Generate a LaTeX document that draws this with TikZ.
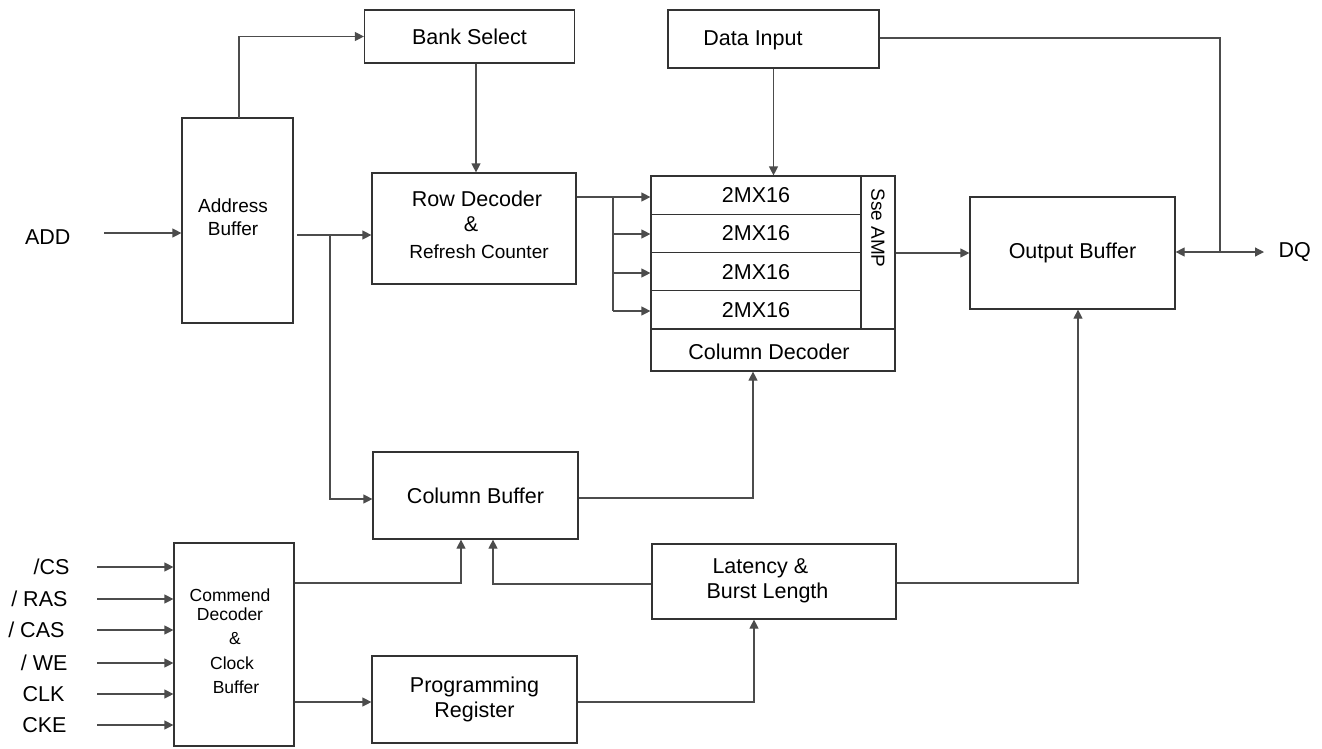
\documentclass[tikz,border=0pt]{standalone}
\usepackage{fontspec}
\setmainfont{Liberation Sans}
\usetikzlibrary{arrows.meta}
\begin{document}
\begin{tikzpicture}[x=1pt,y=-1pt,
  blk/.style={draw=black!80, line width=1.2pt, inner sep=0pt, rectangle},
  big/.style={font=\fontsize{21.5}{25}\selectfont},
  mid/.style={font=\fontsize{19}{23}\selectfont},
  sml/.style={font=\fontsize{17.5}{19}\selectfont},
  wire/.style={draw=black!70, line width=1.2pt},
  arr/.style={wire, -{Triangle[length=9pt,width=9pt]}},
  arrb/.style={wire, {Triangle[length=9pt,width=9pt]}-{Triangle[length=9pt,width=9pt]}}]
\useasboundingbox (0,0) rectangle (1322,748);

% boxes
\node[blk, big, minimum width=210pt, minimum height=53pt] (bank) at (469.5,36.5) {Bank Select};
\node[blk, minimum width=211pt, minimum height=58pt] (din) at (773.5,39) {};
\node[big] (dint) at (753,40) {Data Input};
\node[blk, minimum width=111pt, minimum height=205pt] (addr) at (237.5,220.5) {};
\node[mid, align=center] (addrt) at (233,217) {Address\\Buffer};
\node[blk, minimum width=204pt, minimum height=111pt] (rowdec) at (474,228.5) {};
\node[big] (rowt1) at (477,199) {Row Decoder};
\node[big] (rowt2) at (471,224) {\&};
\node[mid] (rowt3) at (479,252) {Refresh Counter};

\node[blk, big, minimum width=210pt, minimum height=38.25pt] (r1) at (756,195.125) {2MX16};
\node[blk, big, minimum width=210pt, minimum height=38.25pt] (r2) at (756,233.375) {2MX16};
\node[blk, big, minimum width=210pt, minimum height=38.25pt] (r3) at (756,271.625) {2MX16};
\node[blk, big, minimum width=210pt, minimum height=38.25pt] (r4) at (756,309.875) {2MX16};
\node[blk, minimum width=34pt, minimum height=153pt] (sse) at (878,252.5) {};
\node[mid, rotate=-90] (sset) at (878,228) {Sse AMP};
\node[blk, minimum width=244pt, minimum height=42pt] (coldec) at (773,350) {};
\node[big] (coldect) at (769,352) {Column Decoder};

\node[blk, big, minimum width=205pt, minimum height=112pt] (outbuf) at (1072.5,253) {Output Buffer};
\node[blk, big, minimum width=205pt, minimum height=87pt] (colbuf) at (475.5,495.5) {Column Buffer};
\node[blk, minimum width=120pt, minimum height=203pt] (cmd) at (234,644.5) {};
\node[sml, align=center] (cmdt1) at (230,605) {Commend\\Decoder};
\node[sml] (cmdt2) at (235,639) {\&};
\node[sml] (cmdt3) at (232,663) {Clock};
\node[sml] (cmdt4) at (236,687) {Buffer};
\node[blk, minimum width=244pt, minimum height=75pt] (lat) at (774,581.5) {};
\node[big, align=left, anchor=west] (latt) at (703,581) {\ Latency \&\\Burst Length};
\node[blk, big, align=center, minimum width=205pt, minimum height=87pt] (prog) at (474.5,699.5) {Programming\\Register};

% labels
\node[big, anchor=east] (add) at (74,237) {ADD};
\node[big, anchor=west] (dq) at (1275,252) {DQ};
\node[big, anchor=east] (lcs) at (73,567) {/CS};
\node[big, anchor=east] (lras) at (71,599) {/ RAS};
\node[big, anchor=east] (lcas) at (68,630) {/ CAS};
\node[big, anchor=east] (lwe) at (71,663) {/ WE};
\node[big, anchor=east] (lclk) at (68,694) {CLK};
\node[big, anchor=east] (lcke) at (70,725) {CKE};

% coordinates
\coordinate (addin) at (104,233);
\coordinate (abo) at (297,235);
\coordinate (br1) at (330,235);
\coordinate (rb) at (613,197);
\coordinate (jdq) at (1220,252);
\coordinate (dqend) at (1264,252);
\coordinate (scs) at (97,567);
\coordinate (sras) at (97,599);
\coordinate (scas) at (97,630);
\coordinate (swe) at (97,663);
\coordinate (sclk) at (97,694);
\coordinate (scke) at (97,725);

% connectors
\draw[arr] (addin) -- (addin -| addr.west);
\draw[arr] (239,118) |- (bank.west);
\draw[arr] (bank.south -| 476,0) -- (rowdec.north -| 476,0);
\draw[arr] (abo) -- (abo -| rowdec.west);
\draw[arr] (br1) |- (colbuf.west |- 0,499);
\draw[wire] (rowdec.east |- rb) -- (rb) -- (613,311);
\draw[arr] (rb) -- (rb -| r1.west);
\draw[arr] (613,234) -- (r2.west |- 0,234);
\draw[arr] (613,273) -- (r3.west |- 0,273);
\draw[arr] (613,311) -- (r4.west |- 0,311);
\draw[arr] (din.south) -- (din.south |- r1.north);
\draw[wire] (din.east |- 0,38) -- (1220,38) -- (jdq);
\draw[arr] (sse.east |- 0,253) -- (outbuf.west |- 0,253);
\draw[arrb] (outbuf.east |- dqend) -- (dqend);
\draw[arr] (colbuf.east |- 0,498) -| (coldec.south -| 753,0);
\draw[arr] (cmd.east |- 0,583) -| (colbuf.south -| 461,0);
\draw[arr] (lat.west |- 0,584) -| (colbuf.south -| 493,0);
\draw[arr] (lat.east |- 0,583) -| (outbuf.south -| 1078,0);
\draw[arr] (cmd.east |- 0,702) -- (prog.west |- 0,702);
\draw[arr] (prog.east |- 0,702) -| (lat.south -| 754,0);
\draw[arr] (scs) -- (scs -| cmd.west);
\draw[arr] (sras) -- (sras -| cmd.west);
\draw[arr] (scas) -- (scas -| cmd.west);
\draw[arr] (swe) -- (swe -| cmd.west);
\draw[arr] (sclk) -- (sclk -| cmd.west);
\draw[arr] (scke) -- (scke -| cmd.west);
\end{tikzpicture}
\end{document}
